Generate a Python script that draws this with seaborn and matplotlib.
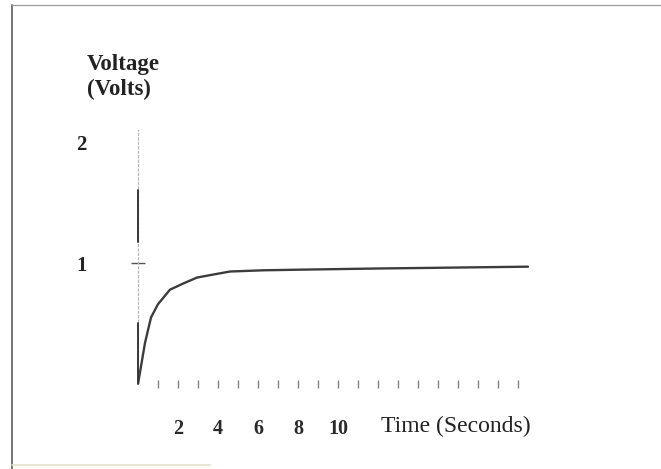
import matplotlib
matplotlib.use("Agg")
import matplotlib.pyplot as plt
from matplotlib.lines import Line2D
import seaborn as sns
import pandas as pd

# ----------------- Data -----------------
time_s = [0, 0.35, 0.65, 1.0, 1.6, 2.25, 2.95, 3.6, 4.6, 6.25, 8.0, 10.0, 12.0, 14.6, 17.0, 19.5]
volts = [0, 0.34, 0.55, 0.66, 0.78, 0.83, 0.88, 0.90, 0.93, 0.94, 0.945, 0.95, 0.955, 0.96, 0.965, 0.97]

x_labeled = [2, 4, 6, 8, 10]
x_minor = [1, 3, 5, 7, 9, 11, 12, 13, 14, 15, 16, 17, 18, 19]
y_labeled = [1, 2]

df = pd.DataFrame({"Time": time_s, "Voltage": volts})

# ----------------- Plot -----------------
sns.set_style("white")
plt.rcParams["font.family"] = ["Liberation Serif", "DejaVu Serif"]

fig = plt.figure(figsize=(6.61, 4.69), dpi=100)
ax = fig.add_axes([138 / 661, 85 / 469, 400 / 661, 254 / 469])

sns.lineplot(data=df, x="Time", y="Voltage", ax=ax, color="#3c3c3c", linewidth=1.7)

ax.set_xlim(0, 20)
ax.set_ylim(0, 2.1)

for side in ["top", "right", "bottom"]:
    ax.spines[side].set_visible(False)
ax.spines["left"].set_color("#b5b5b5")
ax.spines["left"].set_linewidth(0.8)
ax.spines["left"].set_linestyle((0, (2, 2)))

# darker pieces of the photocopied y axis
ax.axvline(0, ymin=0.0, ymax=0.24, color="#2a2a2a", linewidth=1.3, clip_on=False, zorder=5)
ax.axvline(0, ymin=0.56, ymax=0.765, color="#2a2a2a", linewidth=1.3, clip_on=False, zorder=5)

ax.set_xticks(x_labeled)
ax.set_xticklabels([str(v) for v in x_labeled], fontsize=14.5, fontweight="bold", color="#2a2a2a")
ax.set_xticks(x_minor, minor=True)
ax.tick_params(axis="x", which="both", direction="inout", length=6, width=1,
               color="#808080", pad=22, bottom=True)

ax.set_yticks(y_labeled)
ax.set_yticklabels([str(v) for v in y_labeled], fontsize=15, fontweight="bold", color="#222222")
ax.tick_params(axis="y", direction="inout", length=10, width=1, color="#555555", pad=32, left=True)
ax.yaxis.get_major_ticks()[1].tick1line.set_visible(False)

ax.set_xlabel("")
ax.set_ylabel("")

fig.text(87 / 661, 1 - 54 / 469, "Voltage\n(Volts)", ha="left", va="top",
         fontsize=16.5, fontweight="bold", color="#222222", linespacing=1.25)
ax.text(381 / 661, 1 - 432 / 469, "Time (Seconds)", transform=fig.transFigure,
        ha="left", va="baseline", fontsize=17, color="#222222")

# scanned page border
fig.add_artist(Line2D([12 / 661, 12 / 661], [0, 1 - 5 / 469], transform=fig.transFigure,
                      color="#6a6a6a", linewidth=1.3))
fig.add_artist(Line2D([12 / 661, 1], [1 - 5 / 469, 1 - 5 / 469], transform=fig.transFigure,
                      color="#9a9a9a", linewidth=0.9))
fig.add_artist(Line2D([12 / 661, 210 / 661], [4 / 469, 4 / 469], transform=fig.transFigure,
                      color="#e8e2c0", linewidth=1.2))

fig.savefig("out.png", dpi=100)
plt.close(fig)
